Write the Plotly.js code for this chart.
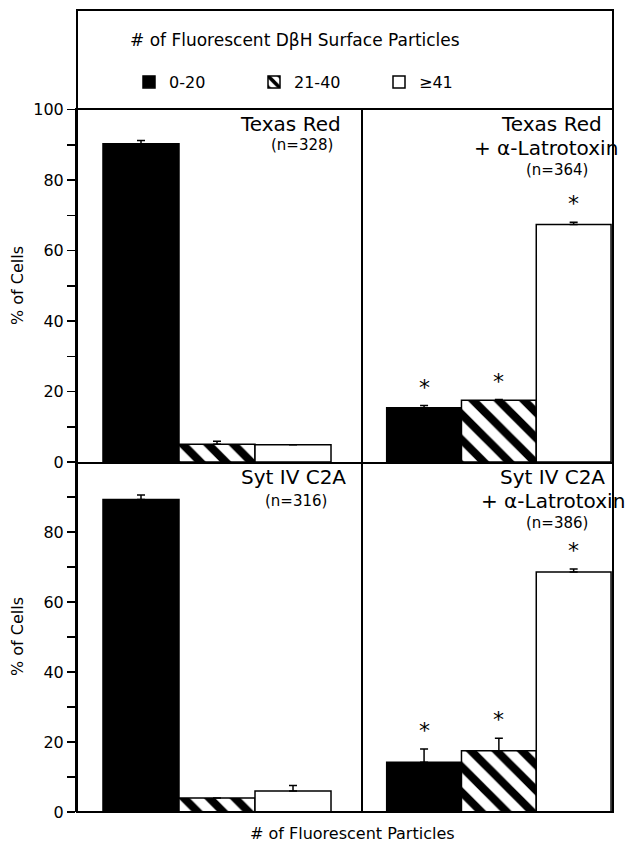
<!DOCTYPE html>
<html>
<head>
<meta charset="utf-8">
<script src="https://cdn.plot.ly/plotly-3.0.1.min.js"></script>
<style>html,body{margin:0;padding:0;background:#fff;}#chart{width:634px;height:852px;}</style>
</head>
<body>
<div id="chart"></div>
<script>
// ---- data ----
const categories = ['0-20', '21-40', '\u226541'];
const panelNames = ['Texas Red', 'Texas Red + \u03b1-Latrotoxin', 'Syt IV C2A', 'Syt IV C2A + \u03b1-Latrotoxin'];
const panelN = [328, 364, 316, 386];
const texasRed      = [90.3, 5.0, 4.9];
const texasRedErr   = [0.9, 0.9, 0.0];
const texasRedLtx   = [15.4, 17.5, 67.4];
const texasRedLtxErr= [0.6, 0.2, 0.6];
const sytC2A        = [89.3, 4.0, 6.0];
const sytC2AErr     = [1.3, 0.0, 1.6];
const sytC2ALtx     = [14.2, 17.5, 68.6];
const sytC2ALtxErr  = [3.8, 3.6, 0.8];
const significant   = [[false,false,false],[true,true,true],[false,false,false],[true,true,true]];
const yTicksTop = [0, 20, 40, 60, 80, 100];
const yTicksBottom = [0, 20, 40, 60, 80];
const yMinorTicks = [10, 30, 50, 70, 90];

const values = [texasRed, texasRedLtx, sytC2A, sytC2ALtx];
const errors = [texasRedErr, texasRedLtxErr, sytC2AErr, sytC2ALtxErr];

// ---- layout helpers ----
const W = 634, H = 852;
const L = 77, R = 613, T = 10, B = 812;
const px2x = p => (p - L) / (R - L);
const px2y = p => (B - p) / (B - T);
const FONT = 'DejaVu Sans, Liberation Sans, Arial, sans-serif';

const styles = [
  {color: 'black', pattern: {shape: ''}},
  {color: 'white', pattern: {shape: '\\', fgcolor: 'black', bgcolor: 'white', size: 18, solidity: 0.45, fillmode: 'replace'}},
  {color: 'white', pattern: {shape: ''}}
];

const axSuffix = ['', '2', '3', '4'];
const traces = [];
for (let p = 0; p < 4; p++) {
  for (let c = 0; c < 3; c++) {
    traces.push({
      type: 'bar',
      x: [c],
      y: [values[p][c]],
      width: 1,
      name: categories[c],
      legendgroup: categories[c],
      showlegend: p === 0,
      xaxis: 'x' + axSuffix[p],
      yaxis: 'y' + axSuffix[p],
      marker: {color: styles[c].color, pattern: styles[c].pattern, line: {color: 'black', width: 1.5}},
      error_y: {type: 'data', symmetric: false, array: [errors[p][c]], arrayminus: [0], visible: true,
                color: 'black', thickness: 1.5, width: 4},
      hoverinfo: 'skip'
    });
  }
}

const divX = px2x(360.5);
const midY = px2y(462);
const topY = px2y(109.5);

function xax(domain, range) {
  return {domain: domain, range: range, showline: true, mirror: true, linecolor: 'black', linewidth: 2,
          showticklabels: false, ticks: '', showgrid: false, zeroline: false, fixedrange: true};
}
function yax(domain, withTicks, tickvals) {
  const a = {domain: domain, range: [0, 100], showline: true, mirror: true, linecolor: 'black', linewidth: 2,
             showgrid: false, zeroline: false, fixedrange: true};
  if (withTicks) {
    Object.assign(a, {tickmode: 'array', tickvals: tickvals, ticks: 'outside', ticklen: 8, tickwidth: 1.5,
      tickcolor: 'black', tickfont: {family: FONT, size: 16, color: 'black'},
      minor: {tickmode: 'array', tickvals: yMinorTicks, ticks: 'outside', ticklen: 8, tickwidth: 1.5, tickcolor: 'black'}});
  } else {
    Object.assign(a, {showticklabels: false, ticks: ''});
  }
  return a;
}

const leftRange = [-0.842, 2.888];
const rightRange = [-0.85, 2.526];

const annotations = [];
function txt(t, x, y, size, extra) {
  return Object.assign({text: t, xref: 'paper', yref: 'paper', x: px2x(x), y: px2y(y),
    xanchor: 'center', yanchor: 'middle', showarrow: false,
    font: {family: FONT, size: size, color: 'black'}}, extra || {});
}
// legend title
annotations.push(txt('# of Fluorescent D\u03b2H Surface Particles', 295, 40, 17));
// panel labels
const labelPos = [
  [{x: 290, y: 124, s: 20, t: 'Texas Red'}, {x: 302, y: 145, s: 15, t: '(n=' + panelN[0] + ')'}],
  [{x: 551, y: 124, s: 20, t: 'Texas Red'}, {x: 546, y: 148, s: 20, t: '+ \u03b1-Latrotoxin'}, {x: 557, y: 170, s: 15, t: '(n=' + panelN[1] + ')'}],
  [{x: 293, y: 477, s: 20, t: 'Syt IV C2A'}, {x: 296, y: 501, s: 15, t: '(n=' + panelN[2] + ')'}],
  [{x: 552, y: 477, s: 20, t: 'Syt IV C2A'}, {x: 553, y: 501, s: 20, t: '+ \u03b1-Latrotoxin'}, {x: 557, y: 523, s: 15, t: '(n=' + panelN[3] + ')'}]
];
labelPos.forEach(list => list.forEach(l => annotations.push(txt(l.t, l.x, l.y, l.s))));
// asterisks
for (let p = 0; p < 4; p++) for (let c = 0; c < 3; c++) if (significant[p][c]) {
  annotations.push({text: '*', xref: 'x' + axSuffix[p], yref: 'y' + axSuffix[p], x: c,
    y: values[p][c] + errors[p][c], xanchor: 'center', yanchor: 'bottom', yshift: 4, showarrow: false,
    font: {family: FONT, size: 22, color: 'black'}});
}
// axis titles
annotations.push(txt('% of Cells', 17, 286, 16, {textangle: -90}));
annotations.push(txt('% of Cells', 17, 637, 16, {textangle: -90}));
annotations.push(txt('# of Fluorescent Particles', 352, 833, 16));

const layout = {
  width: W, height: H,
  margin: {l: L, r: W - R, t: T, b: H - B, pad: 0},
  paper_bgcolor: 'white', plot_bgcolor: 'white',
  barmode: 'overlay', bargap: 0,
  font: {family: FONT, color: 'black'},
  showlegend: true,
  legend: {orientation: 'h', x: px2x(129), y: px2y(82), xanchor: 'left', yanchor: 'middle',
    font: {family: FONT, size: 16, color: 'black'}, entrywidth: 80, entrywidthmode: 'pixels',
    bgcolor: 'rgba(0,0,0,0)', borderwidth: 0, itemclick: false, itemdoubleclick: false, traceorder: 'normal'},
  xaxis:  xax([0, divX], leftRange),
  yaxis:  yax([midY, topY], true, yTicksTop),
  xaxis2: xax([divX, 1], rightRange),
  yaxis2: yax([midY, topY], false),
  xaxis3: xax([0, divX], leftRange),
  yaxis3: yax([0, midY], true, yTicksBottom),
  xaxis4: xax([divX, 1], rightRange),
  yaxis4: yax([0, midY], false),
  shapes: [{type: 'rect', xref: 'paper', yref: 'paper', x0: 0, x1: 1, y0: 0, y1: 1,
    line: {color: 'black', width: 2}, fillcolor: 'rgba(0,0,0,0)', layer: 'above'}],
  annotations: annotations
};

Plotly.newPlot('chart', traces, layout, {staticPlot: true, displayModeBar: false});
</script>
</body>
</html>
